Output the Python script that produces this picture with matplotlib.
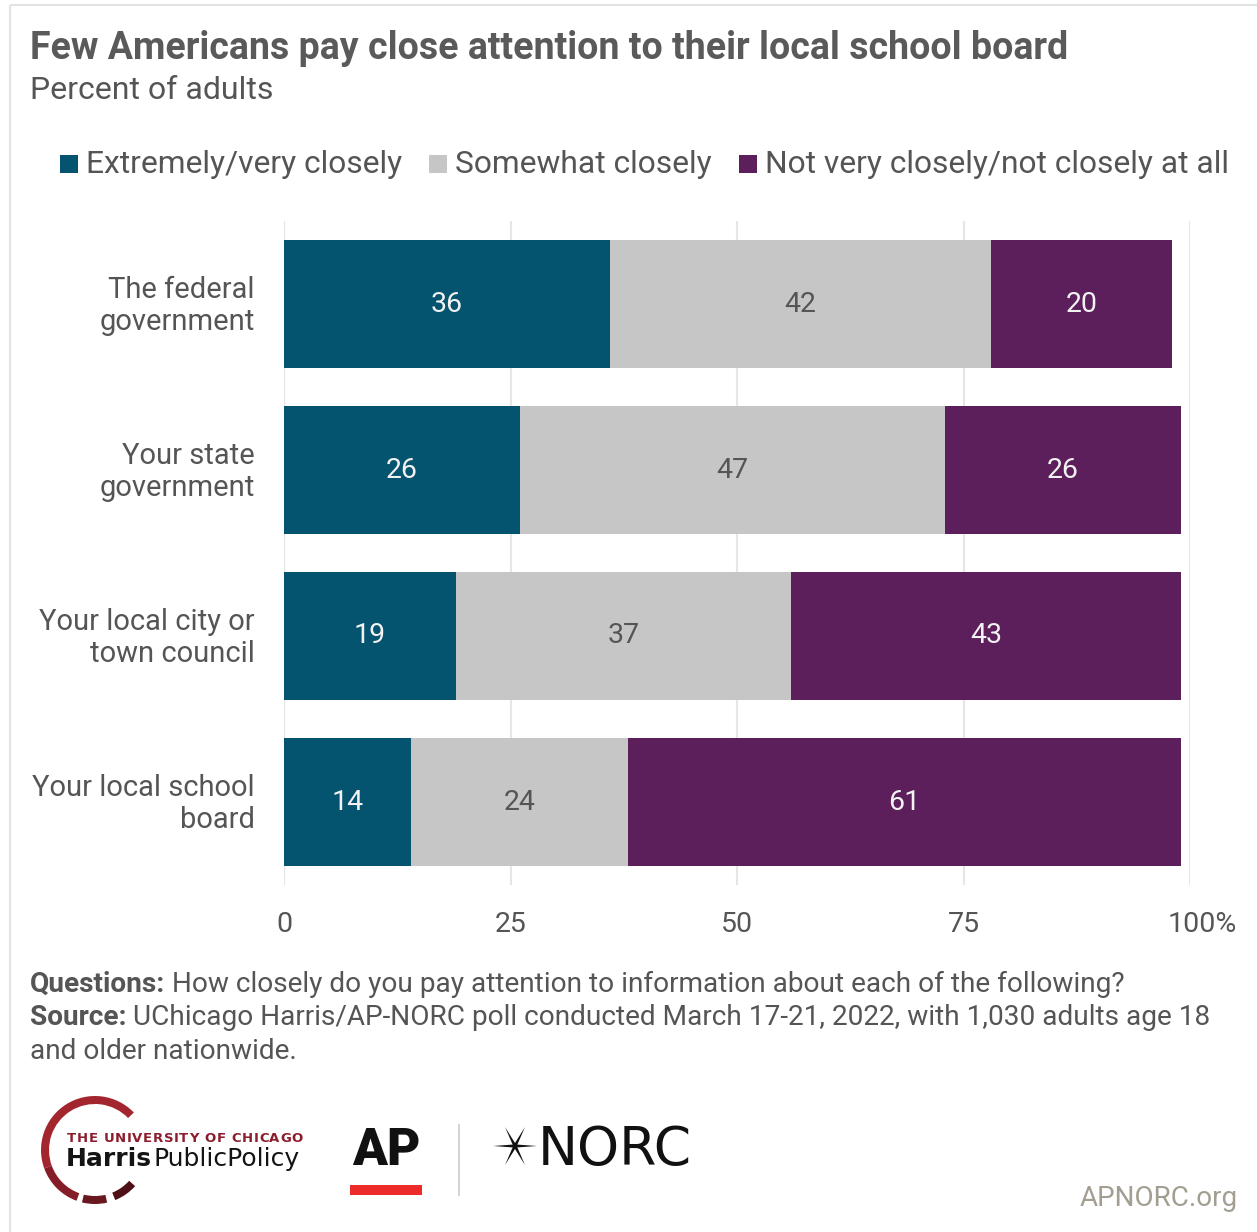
import matplotlib.pyplot as plt
from matplotlib.patches import Rectangle, Wedge, Polygon
from matplotlib.transforms import ScaledTranslation
import numpy as np

plt.rcParams['font.family'] = ['Roboto', 'DejaVu Sans']

# data
categories = ['The federal\ngovernment', 'Your state\ngovernment',
              'Your local city or\ntown council', 'Your local school\nboard']
extremely = [36, 26, 19, 14]
somewhat = [42, 47, 37, 24]
not_closely = [20, 26, 43, 61]
series_names = ['Extremely/very closely', 'Somewhat closely',
                'Not very closely/not closely at all']
x_ticks = [0, 25, 50, 75, 100]
x_tick_labels = ['0', '25', '50', '75', '100%']

colors = ['#04536f', '#c6c6c6', '#5c1f5b']
label_colors = ['#f2f2f2', '#555555', '#f2f2f2']
text_color = '#555555'

W, H = 1257, 1232
fig = plt.figure(figsize=(W / 100, H / 100), dpi=100)
renderer = fig.canvas.get_renderer()

# full-figure layer in pixel units for titles, legend, notes and logos
over = fig.add_axes([0, 0, 1, 1])
over.set_xlim(0, W)
over.set_ylim(H, 0)
over.axis('off')

# frame
over.add_patch(Rectangle((10, 5), W + 20, H + 20, fill=False, ec='#e3e3e3', lw=1.5))

# chart
ax = fig.add_axes([284 / W, 1 - 885 / H, 906 / W, 664 / H])
ax.patch.set_alpha(0)
y = np.arange(len(categories))
left = np.zeros(len(categories))
for vals, c, lc in zip([extremely, somewhat, not_closely], colors, label_colors):
    bars = ax.barh(y, vals, left=left, height=0.77, color=c, zorder=2)
    texts = ax.bar_label(bars, labels=[str(v) for v in vals], label_type='center',
                         color=lc, fontsize=20.5)
    for t in texts:
        t.set_transform(t.get_transform() + ScaledTranslation(0, -0.02, fig.dpi_scale_trans))
    left += np.array(vals)

ax.set_xlim(0, 100)
ax.set_ylim(3.5, -0.5)
ax.set_xticks(x_ticks, x_tick_labels)
ax.set_yticks(y, categories)
ax.grid(axis='x', color='#e6e6e6', lw=1.5)
ax.grid(axis='y', visible=False)
ax.set_axisbelow(True)
for s in ax.spines.values():
    s.set_visible(False)
ax.tick_params(axis='x', length=0, pad=19, labelsize=20.5, labelcolor=text_color)
ax.tick_params(axis='y', length=0, pad=21, labelsize=21, labelcolor=text_color)
for lab in ax.get_yticklabels():
    lab.set_linespacing(1.2)
    lab.set_transform(lab.get_transform() + ScaledTranslation(0, 0.03, fig.dpi_scale_trans))
last = ax.get_xticklabels()[-1]
last.set_transform(last.get_transform() + ScaledTranslation(0.12, 0, fig.dpi_scale_trans))

# titles
over.text(30, 59, 'Few Americans pay close attention to their local school board',
          fontsize=27, fontweight='bold', color='#5a5a5a', va='baseline')
over.text(30, 99, 'Percent of adults', fontsize=23, color=text_color, va='baseline')

# legend
lx = 60
for name, c in zip(series_names, colors):
    over.add_patch(Rectangle((lx, 155), 18, 18, color=c, lw=0))
    t = over.text(lx + 26, 173, name, fontsize=22.9, color=text_color, va='baseline')
    bb = t.get_window_extent(renderer)
    lx = bb.x1 + 27

# notes
def mixed_line(x, yb, bold, rest):
    t = over.text(x, yb, bold, fontsize=20.2, fontweight='bold', color=text_color, va='baseline')
    x1 = t.get_window_extent(renderer).x1
    over.text(x1, yb, rest, fontsize=20.2, color=text_color, va='baseline')

mixed_line(30, 992, 'Questions:', ' How closely do you pay attention to information about each of the following?')
mixed_line(30, 1025, 'Source:', ' UChicago Harris/AP-NORC poll conducted March 17-21, 2022, with 1,030 adults age 18')
over.text(30, 1059, 'and older nationwide.', fontsize=20.2, color=text_color, va='baseline')

# Harris Public Policy mark
cx, cy, r = 95, 1150, 54
over.add_patch(Wedge((cx, cy), r, -200, -44, width=8, color='#a3262f', lw=0))
over.add_patch(Wedge((cx, cy), r, -250, -200, width=8, color='#841d27', lw=0))
over.add_patch(Wedge((cx, cy), r, -283, -256, width=8, color='#6a1820', lw=0))
over.add_patch(Wedge((cx, cy), r, -318, -292, width=8, color='#4e1016', lw=0))

# letter-spaced line above the school name
hx = 67
for ch in 'THE UNIVERSITY OF CHICAGO':
    t = over.text(hx, 1142, ch, fontsize=9.5, fontweight='bold', color='#8c1d2c',
                  va='baseline', family='DejaVu Sans')
    hx = t.get_window_extent(renderer).x1 + 0.6 if ch != ' ' else hx + 5.5
t = over.text(66, 1166, 'Harris', fontsize=18, fontweight='bold', color='#141414',
              va='baseline', family='DejaVu Sans')
x1 = t.get_window_extent(renderer).x1
over.text(x1 + 1, 1166, 'PublicPolicy', fontsize=18, color='#141414', va='baseline',
          family='DejaVu Sans')

# AP mark
over.text(352, 1165, 'AP', fontsize=37, fontweight='black', color='#111111', va='baseline')
over.add_patch(Rectangle((350, 1185), 72, 10, color='#ee2b2b', lw=0))
over.plot([459, 459], [1125, 1195], color='#cccccc', lw=1.2)

# NORC mark
sx, sy = 515, 1146
for dx, dy in [(22, 0), (-22, 0), (10, -19), (-10, -19), (10, 19), (-10, 19)]:
    n = np.array([-dy, dx], float) / np.hypot(dx, dy) * 1.6
    over.add_patch(Polygon([(sx + n[0], sy + n[1]), (sx + dx, sy + dy),
                            (sx - n[0], sy - n[1])], color='#111111', lw=0))
over.text(538, 1165, 'NORC', fontsize=38.5, color='#111111', va='baseline',
          family='DejaVu Sans')

over.text(1238, 1206, 'APNORC.org', fontsize=20, color='#a39e91', va='baseline', ha='right')

fig.savefig('out.png', dpi=100)
